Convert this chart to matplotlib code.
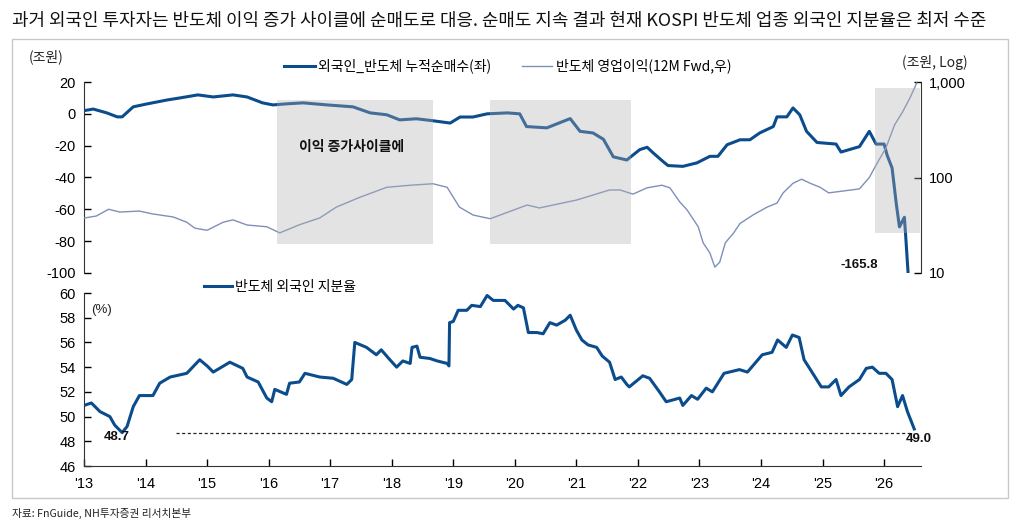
import matplotlib
matplotlib.use("Agg")
import matplotlib.pyplot as plt
from matplotlib.patches import Rectangle
import numpy as np

# ---------------- data ----------------
net_buy_x = [2013.00, 2013.15, 2013.37, 2013.54, 2013.62, 2013.80, 2014.02, 2014.35, 2014.56, 2014.85,
             2015.10, 2015.42, 2015.65, 2015.90, 2016.07, 2016.30, 2016.56, 2016.95, 2017.37, 2017.65,
             2017.92, 2018.13, 2018.40, 2018.66, 2018.95, 2019.11, 2019.32, 2019.55, 2019.88, 2020.08,
             2020.19, 2020.52, 2020.90, 2021.06, 2021.27, 2021.44, 2021.60, 2021.82, 2022.03, 2022.15,
             2022.25, 2022.41, 2022.49, 2022.73, 2022.96, 2023.17, 2023.30, 2023.45, 2023.66, 2023.82,
             2023.98, 2024.20, 2024.26, 2024.42, 2024.52, 2024.63, 2024.74, 2024.91, 2025.22, 2025.30,
             2025.60, 2025.76, 2025.87, 2026.00, 2026.05, 2026.13, 2026.20, 2026.25, 2026.33, 2026.35,
             2026.50]
net_buy = [2.0, 3.0, 0.6, -1.9, -1.9, 4.4, 6.2, 8.7, 10.0, 11.9,
           10.6, 11.9, 10.6, 6.9, 5.6, 6.3, 6.9, 5.6, 4.4, 0.6,
           -0.6, -3.8, -3.1, -4.3, -5.8, -2.0, -2.0, 0.0, 0.6, 0.0,
           -8.0, -8.8, -3.0, -11.0, -12.0, -16.0, -27.0, -29.0, -22.5, -21.0,
           -24.6, -30.0, -32.5, -33.0, -30.8, -26.7, -26.7, -19.4, -16.3, -16.3,
           -12.0, -8.0, -1.9, -1.9, 3.7, -0.6, -11.0, -18.0, -19.0, -24.0,
           -20.6, -11.0, -19.0, -19.0, -26.0, -34.0, -57.0, -71.0, -65.0, -76.0,
           -165.8]

op_x = [2013.00, 2013.20, 2013.40, 2013.58, 2013.90, 2014.12, 2014.45, 2014.67, 2014.80, 2015.00,
        2015.26, 2015.42, 2015.65, 2015.97, 2016.18, 2016.50, 2016.83, 2017.10, 2017.48, 2017.92,
        2018.30, 2018.67, 2018.90, 2019.10, 2019.32, 2019.60, 2020.20, 2020.40, 2021.00, 2021.54,
        2021.71, 2021.92, 2022.15, 2022.39, 2022.52, 2022.68, 2022.80, 2022.98, 2023.06, 2023.17,
        2023.25, 2023.33, 2023.42, 2023.55, 2023.66, 2023.87, 2024.10, 2024.26, 2024.36, 2024.52,
        2024.66, 2024.80, 2024.96, 2025.10, 2025.60, 2025.76, 2025.87, 2026.03, 2026.17, 2026.30,
        2026.42, 2026.53]
op_profit = [37.6, 39.5, 46.5, 43.5, 44.5, 41.5, 38.6, 34.0, 29.5, 28.0,
             34.0, 36.0, 31.8, 30.5, 26.3, 32.0, 37.7, 49.0, 62.0, 79.0,
             83.0, 86.0, 79.0, 49.0, 40.5, 37.0, 51.5, 48.0, 58.0, 74.0,
             74.0, 67.0, 78.0, 83.0, 78.0, 55.5, 45.7, 30.5, 20.7, 16.2,
             11.5, 13.0, 20.7, 26.0, 33.0, 40.5, 49.0, 54.0, 69.0, 87.0,
             96.0, 87.0, 79.0, 69.0, 76.0, 100.0, 135.0, 204.0, 355.0, 485.0,
             680.0, 975.0]

own_x = [2013.00, 2013.12, 2013.26, 2013.42, 2013.50, 2013.62, 2013.70, 2013.80, 2013.90, 2014.12,
         2014.23, 2014.40, 2014.67, 2014.88, 2015.00, 2015.10, 2015.37, 2015.58, 2015.65, 2015.83,
         2015.97, 2016.05, 2016.10, 2016.29, 2016.34, 2016.50, 2016.59, 2016.83, 2017.05, 2017.27,
         2017.35, 2017.40, 2017.59, 2017.75, 2017.83, 2017.97, 2018.08, 2018.18, 2018.30, 2018.33,
         2018.41, 2018.46, 2018.62, 2018.74, 2018.90, 2018.93, 2018.94, 2019.00, 2019.08, 2019.22,
         2019.30, 2019.44, 2019.55, 2019.65, 2019.84, 2019.98, 2020.05, 2020.14, 2020.22, 2020.36,
         2020.46, 2020.57, 2020.68, 2020.82, 2020.90, 2021.00, 2021.09, 2021.19, 2021.33, 2021.42,
         2021.54, 2021.63, 2021.73, 2021.82, 2021.86, 2022.08, 2022.19, 2022.35, 2022.46, 2022.68,
         2022.73, 2022.87, 2022.97, 2023.11, 2023.21, 2023.40, 2023.65, 2023.78, 2024.02, 2024.18,
         2024.27, 2024.41, 2024.51, 2024.62, 2024.70, 2024.79, 2024.98, 2025.10, 2025.22, 2025.30,
         2025.43, 2025.60, 2025.71, 2025.81, 2025.92, 2026.03, 2026.13, 2026.22, 2026.30, 2026.38,
         2026.49]
own_share = [50.9, 51.1, 50.4, 50.0, 49.3, 48.7, 49.2, 50.8, 51.7, 51.7,
             52.7, 53.2, 53.5, 54.6, 54.1, 53.6, 54.4, 53.9, 53.2, 52.8,
             51.5, 51.2, 52.2, 51.8, 52.7, 52.8, 53.5, 53.2, 53.1, 52.6,
             53.0, 56.0, 55.6, 55.0, 55.4, 54.6, 54.0, 54.5, 54.3, 55.6,
             55.7, 54.8, 54.7, 54.5, 54.3, 54.1, 57.6, 57.7, 58.6, 58.6,
             59.0, 58.9, 59.8, 59.4, 59.4, 58.7, 59.0, 58.8, 56.8, 56.8,
             56.7, 57.6, 57.4, 57.8, 58.2, 57.0, 56.2, 55.8, 55.6, 54.9,
             54.4, 53.0, 53.2, 52.6, 52.4, 53.3, 53.1, 52.0, 51.2, 51.5,
             50.9, 51.7, 51.4, 52.3, 52.0, 53.5, 53.8, 53.6, 55.0, 55.2,
             56.2, 55.6, 56.6, 56.4, 54.6, 53.9, 52.4, 52.4, 53.0, 51.7,
             52.4, 53.0, 53.9, 54.0, 53.5, 53.5, 53.0, 50.8, 51.7, 50.4,
             49.0]

# shaded "earnings up-cycle" periods: (start, end, top, bottom) in left-axis units
cycles_start = [2016.14, 2019.60, 2025.85]
cycles_end = [2018.67, 2021.88, 2026.58]
cycles_top = [9.0, 9.0, 16.0]
cycles_bottom = [-82.0, -82.0, -75.0]

years = list(range(2013, 2027))
year_labels = ["'%02d" % (y % 100) for y in years]

title = "과거 외국인 투자자는 반도체 이익 증가 사이클에 순매도로 대응. 순매도 지속 결과 현재 KOSPI 반도체 업종 외국인 지분율은 최저 수준"
source = "자료: FnGuide, NH투자증권 리서치본부"

# ---------------- style ----------------
KR = ["Noto Sans CJK KR", "DejaVu Sans"]
NUM = ["Liberation Sans Narrow", "Liberation Sans", "DejaVu Sans"]
plt.rcParams["font.family"] = KR
plt.rcParams["axes.unicode_minus"] = False
DARK = "#0b4c8c"
LIGHT = "#7f90b8"

W, H = 1025, 525
fig = plt.figure(figsize=(W / 100, H / 100), dpi=100)

def fx(px):
    return px / W

def fy(py):
    return 1 - py / H

XMIN, XMAX = 2013.0, 2026.60

# frame
fig.add_artist(Rectangle((fx(12), fy(498)), fx(1008) - fx(12), fy(39) - fy(498),
                         transform=fig.transFigure, fill=False, edgecolor="#c8c8c8", lw=1.0))

fig.text(fx(12), fy(21), title, fontsize=12.9, ha="left", va="center", color="#111111")
fig.text(fx(12), fy(513), source, fontsize=7.7, ha="left", va="center", color="#222222")

# ---------------- top chart ----------------
ax1 = fig.add_axes([fx(84), fy(273), fx(921) - fx(84), fy(82) - fy(273)])
ax1.set_xlim(XMIN, XMAX)
ax1.set_ylim(-100, 20)
ax1.patch.set_alpha(0)
l1, = ax1.plot(net_buy_x, net_buy, color=DARK, lw=2.2, solid_joinstyle="round", zorder=3,
               label="외국인_반도체 누적순매수(좌)")
for s in ["top", "bottom", "right"]:
    ax1.spines[s].set_visible(False)
ax1.spines["left"].set_color("#333333")
ax1.set_xticks([])
ax1.set_yticks(np.arange(-100, 21, 20))
ax1.tick_params(axis="y", direction="in", length=5, width=1, pad=6, labelsize=10.5)
for t in ax1.get_yticklabels():
    t.set_fontfamily(NUM)

ax2 = ax1.twinx()
ax2.set_yscale("log")
ax2.set_ylim(10, 1000)
ax2.set_xlim(XMIN, XMAX)
l2, = ax2.plot(op_x, op_profit, color=LIGHT, lw=1.0, zorder=3, label="반도체 영업이익(12M Fwd,우)")
for s in ["top", "bottom", "left"]:
    ax2.spines[s].set_visible(False)
ax2.spines["right"].set_color("#333333")
ax2.set_yticks([10, 100, 1000])
ax2.set_yticklabels(["10", "100", "1,000"])
ax2.yaxis.set_minor_locator(matplotlib.ticker.NullLocator())
ax2.tick_params(axis="y", direction="in", length=5, width=1, pad=6, labelsize=10.5)
for t in ax2.get_yticklabels():
    t.set_fontfamily(NUM)

for xs, xe, yt, yb in zip(cycles_start, cycles_end, cycles_top, cycles_bottom):
    ax2.add_patch(Rectangle((xs, yb), xe - xs, yt - yb, transform=ax1.transData,
                            facecolor="#b0b0b0", alpha=0.35, edgecolor="none", zorder=5))

ax2.text(2017.35, -21, "이익 증가사이클에", transform=ax1.transData, fontsize=10,
         fontweight="bold", ha="center", va="center", color="#111111", zorder=6)
ax2.text(2025.90, -95, "%.1f" % net_buy[-1], transform=ax1.transData, fontsize=9.5,
         fontweight="bold", ha="right", va="center", color="#111111", family=NUM, zorder=6)

fig.text(fx(46), fy(57), "(조원)", fontsize=10, ha="center", va="center", color="#222222")
fig.text(fx(935), fy(62), "(조원, Log)", fontsize=10, ha="center", va="center", color="#222222")

fig.legend(handles=[l1, l2], loc="center left", bbox_to_anchor=(fx(284), fy(66)),
           ncol=2, frameon=False, fontsize=10, handlelength=2.2, handletextpad=0.25,
           columnspacing=2.2, borderaxespad=0, borderpad=0)

# ---------------- bottom chart ----------------
ax3 = fig.add_axes([fx(84), fy(466), fx(921) - fx(84), fy(293) - fy(466)])
ax3.set_xlim(XMIN, XMAX)
ax3.set_ylim(46, 60)
l3, = ax3.plot(own_x, own_share, color=DARK, lw=2.2, solid_joinstyle="round", label="반도체 외국인 지분율")
min_val = min(own_share)
ax3.hlines(min_val, 2014.5, 2026.47, colors="#222222", linestyles=(0, (2.5, 2)), lw=0.9)
for s in ["top", "right"]:
    ax3.spines[s].set_visible(False)
ax3.spines["left"].set_color("#333333")
ax3.spines["bottom"].set_color("#333333")
ax3.set_yticks(np.arange(46, 61, 2))
ax3.set_xticks(years)
ax3.set_xticklabels(year_labels)
ax3.tick_params(axis="both", direction="in", length=5, width=1, labelsize=10.5)
ax3.tick_params(axis="y", pad=6)
ax3.tick_params(axis="x", pad=8)
for t in ax3.get_yticklabels() + ax3.get_xticklabels():
    t.set_fontfamily(NUM)

i_min = own_share.index(min_val)
ax3.text(own_x[i_min] - 0.08, 48.35, "%.1f" % min_val, fontsize=9.5, fontweight="bold",
         ha="center", va="center", family=NUM, color="#111111")
ax3.text(own_x[-1] + 0.08, 48.2, "%.1f" % own_share[-1], fontsize=9.5, fontweight="bold",
         ha="center", va="center", family=NUM, color="#111111")
ax3.text(0.008, 0.9, "(%)", transform=ax3.transAxes, fontsize=9.5, ha="left", va="center",
         family=NUM, color="#222222")

ax3.legend(handles=[l3], loc="center left", bbox_to_anchor=(fx(204), fy(287)),
           bbox_transform=fig.transFigure, frameon=False, fontsize=10, handlelength=2.0,
           handletextpad=0.25, borderaxespad=0, borderpad=0)

fig.savefig("out.png", dpi=100)
